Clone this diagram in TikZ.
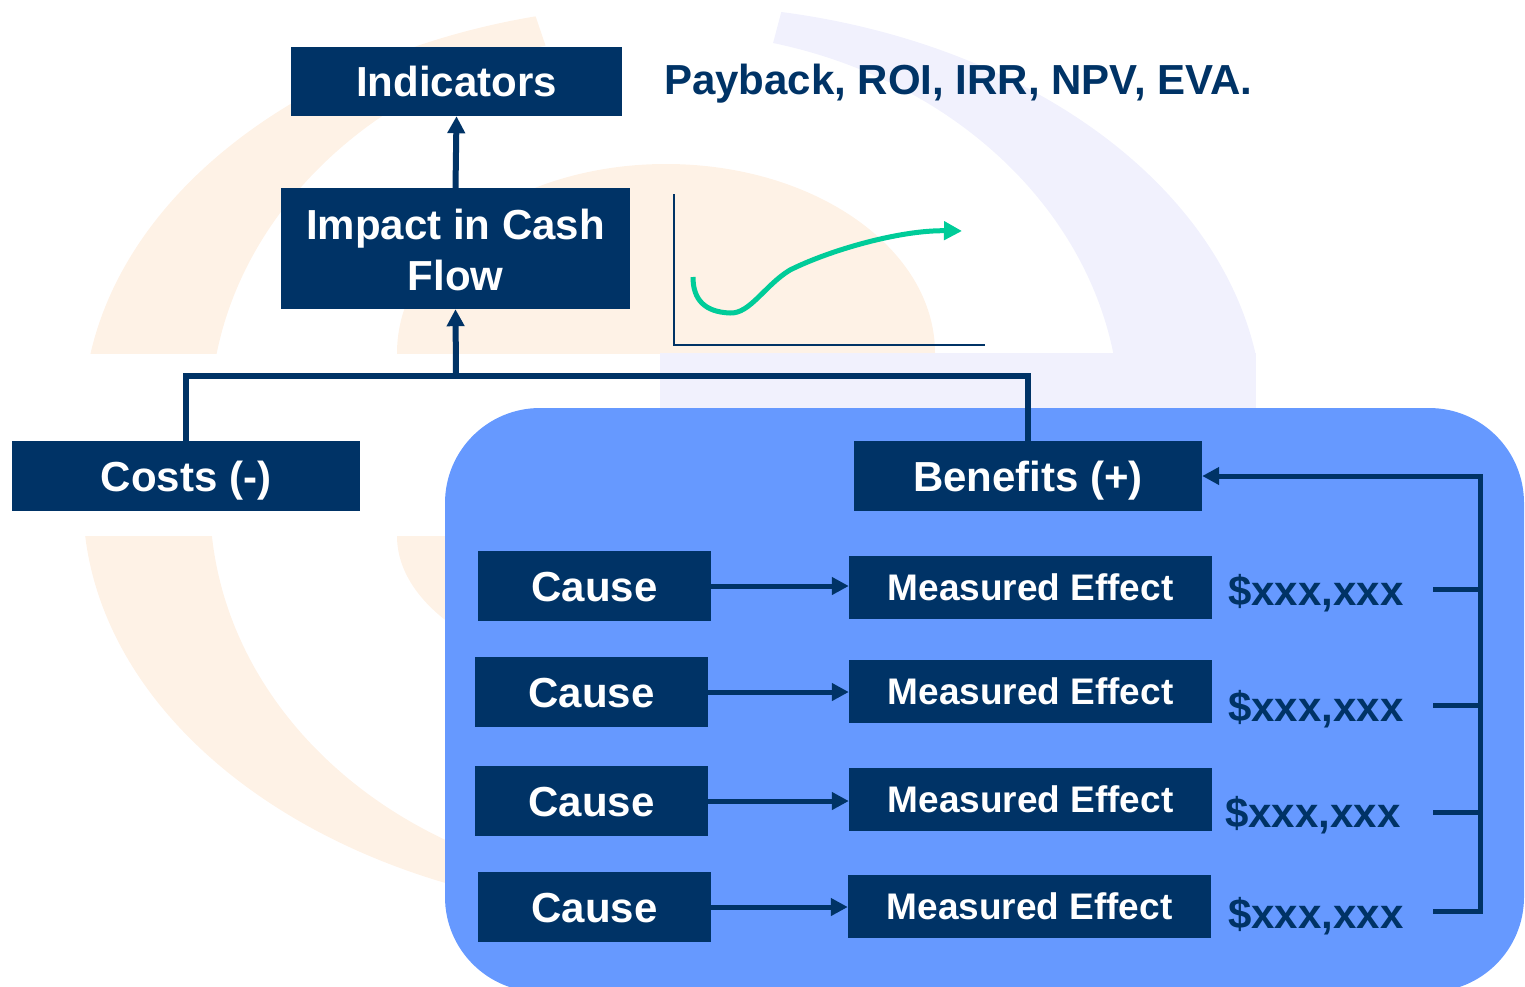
\documentclass[tikz,border=0pt]{standalone}
\usepackage{fontspec}
\setmainfont{Liberation Sans}
\usetikzlibrary{arrows.meta}
\definecolor{navy}{RGB}{0,51,102}
\definecolor{panelblue}{RGB}{102,153,255}
\definecolor{curvegreen}{RGB}{0,204,153}
\definecolor{bgorange}{RGB}{254,242,230}
\definecolor{bglav}{RGB}{241,241,253}
\begin{document}
\begin{tikzpicture}[x=1pt,y=-1pt,
  navybox/.style={rectangle,fill=navy,text=white,inner sep=0pt,align=center,
    font=\bfseries\fontsize{42}{51}\selectfont},
  box/.style={navybox,text height=30pt,text depth=0pt},
  effbox/.style={navybox,font=\bfseries\fontsize{37}{44}\selectfont,text height=26.5pt,text depth=0pt,
    minimum width=363pt,minimum height=63pt},
  causebox/.style={box,minimum width=233pt,minimum height=70pt},
  money/.style={anchor=base west,inner sep=0pt,text=navy,font=\bfseries\fontsize{42}{50}\selectfont},
  conn/.style={draw=navy,line width=6pt},
  thinconn/.style={draw=navy,line width=5pt},
  tip/.style={-{Triangle[length=17pt,width=17pt]}},
]
\useasboundingbox (0,0) rectangle (1525,986);
% ---------- background logo ----------
\begin{scope}
  \clip (-10,-10) rectangle (1540,353);
  \begin{scope}
    \clip (673,420) -- (496,-100) -- (-100,-100) -- (-100,420) -- cycle;
    \fill[bgorange,even odd rule] (673,420) ellipse [x radius=590, y radius=415]
      (665,420) ellipse [x radius=455, y radius=388];
  \end{scope}
  \begin{scope}
    \clip (673,420) -- (811,-100) -- (1600,-100) -- (1600,420) -- cycle;
    \fill[bglav,even odd rule] (673,420) ellipse [x radius=590, y radius=415]
      (665,420) ellipse [x radius=455, y radius=388];
  \end{scope}
  \fill[bgorange] (666,353) ellipse [x radius=269, y radius=189];
\end{scope}
\fill[bglav] (660,353) rectangle (1256,408);
\begin{scope}
  \clip (-10,536) rectangle (1540,1000);
  \fill[bgorange,even odd rule] (673,500) ellipse [x radius=590, y radius=415]
    (665,500) ellipse [x radius=455, y radius=388];
  \fill[bgorange] (666,536) ellipse [x radius=269, y radius=147];
\end{scope}
% ---------- panel ----------
\fill[panelblue,rounded corners=95pt] (445,408) rectangle (1524,992);
% ---------- chart ----------
\draw[navy,line width=2.5pt] (674,194) -- (674,345) -- (985,345);
\draw[curvegreen,line width=5pt,-{Triangle[length=18pt,width=18pt]}]
  (693,277) .. controls (693,300) and (705,312) .. (730,313)
  .. controls (750,314) and (765,285) .. (790,270)
  .. controls (830,250) and (900,230) .. (962,231);
% ---------- nodes ----------
\node[box,minimum width=331pt,minimum height=69pt] (ind) at (456.5,81.5) {Indicators};
\node[anchor=base west,inner sep=0pt,text=navy,font=\bfseries\fontsize{42}{50}\selectfont]
  (metrics) at (664,94) {Payback, ROI, IRR, NPV, EVA.};
\node[navybox,minimum width=349pt,minimum height=121pt] (imp) at (455.5,248.5) {};
\node[anchor=base,inner sep=0pt,text=white,align=center,font=\bfseries\fontsize{42}{51}\selectfont]
  (imptext) at (455.5,290) {Impact in Cash\\Flow};
\node[box,minimum width=348pt,minimum height=70pt] (costs) at (186,476) {Costs (-)};
\node[box,minimum width=348pt,minimum height=70pt] (ben) at (1028,476) {Benefits (+)};
\node[causebox] (c1) at (594.5,586) {Cause};
\node[causebox] (c2) at (591.5,692) {Cause};
\node[causebox] (c3) at (591.5,801) {Cause};
\node[causebox] (c4) at (594.5,907) {Cause};
\node[effbox] (e1) at (1030.5,587.5) {Measured Effect};
\node[effbox] (e2) at (1030.5,691.5) {Measured Effect};
\node[effbox] (e3) at (1030.5,799.5) {Measured Effect};
\node[effbox] (e4) at (1029.5,906.5) {Measured Effect};
\node[money] (d1) at (1228,605) {\$xxx,xxx};
\node[money] (d2) at (1228,721) {\$xxx,xxx};
\node[money] (d3) at (1225,827) {\$xxx,xxx};
\node[money] (d4) at (1228,928) {\$xxx,xxx};
% ---------- connectors ----------
\coordinate (j) at (456,376);
\draw[conn] (costs.north) -- (costs.north |- j) -- (ben.north |- j) -- (ben.north);
\draw[conn,tip] (j) -- (imp.south);
\draw[conn,tip] (imp.north) -- (ind.south);
\foreach \i in {1,2,3,4}{
  \draw[thinconn,tip] (c\i.east) -- (c\i.east -| e\i.west);
}
\coordinate (t1) at (1433,589);
\coordinate (t2) at (1433,705);
\coordinate (t3) at (1433,812);
\coordinate (t4) at (1433,911);
\coordinate (bx) at (1480,911);
\foreach \i in {1,2,3}{
  \draw[thinconn] (t\i) -- (t\i -| bx);
}
\draw[thinconn,tip] (t4) -- (bx) -- (bx |- ben.east) -- (ben.east);
\end{tikzpicture}
\end{document}
